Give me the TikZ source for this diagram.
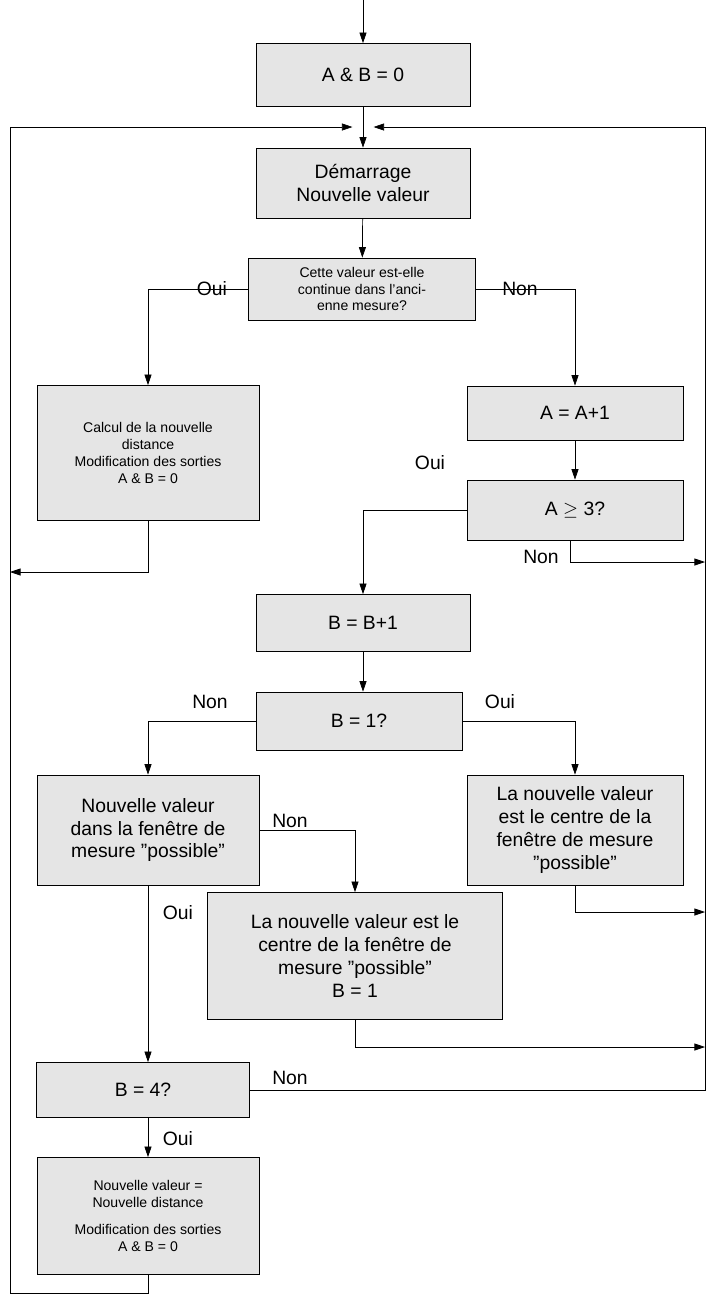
\documentclass[tikz,border=0pt]{standalone}
\usepackage{fontspec}
\setmainfont{Liberation Sans}
\usetikzlibrary{arrows.meta}
\tikzset{
  Box/.style={draw, fill=black!10, align=center, inner sep=2pt, font=\fontsize{11}{13}\selectfont},
  SmallBox/.style={Box, font=\fontsize{8}{9.5}\selectfont},
  Lbl/.style={font=\fontsize{11}{13}\selectfont},
  Flow/.style={-{Triangle[length=6pt,width=4pt]}, thin}
}
\newcommand{\Bx}[6]{\node[#1, minimum width=#4*0.02cm, minimum height=#5*0.02cm] (#2) at (#3) {#6};}
\begin{document}
\begin{tikzpicture}[x=0.02cm,y=-0.02cm]
  \useasboundingbox (0,0) rectangle (715,1303);
  % boxes
  \Bx{Box}{init}{363,75}{214}{63}{A \& B = 0}
  \Bx{Box}{start}{363,183}{214}{70}{Démarrage\\Nouvelle valeur}
  \Bx{SmallBox}{cont}{362,289}{227}{62}{Cette valeur est-elle\\continue dans l’anci-\\enne mesure?}
  \Bx{SmallBox}{calc}{148,453}{222}{135}{Calcul de la nouvelle\\distance\\Modification des sorties\\A \& B = 0}
  \Bx{Box}{incA}{575,413}{216}{54}{A = A+1}
  \Bx{Box}{testA}{575,510}{216}{60}{A $\geq$ 3?}
  \Bx{Box}{incB}{363,623}{214}{57}{B = B+1}
  \Bx{Box}{testB}{359,721}{206}{58}{B = 1?}
  \Bx{Box}{window}{148,830}{222}{110}{Nouvelle valeur\\dans la fenêtre de\\mesure "possible"}
  \Bx{Box}{centreR}{575,830}{216}{110}{La nouvelle valeur\\est le centre de la\\fenêtre de mesure\\"possible"}
  \Bx{Box}{centreM}{355,956}{295}{127}{La nouvelle valeur est le\\centre de la fenêtre de\\mesure "possible"\\B = 1}
  \Bx{Box}{testF}{143,1090}{213}{55}{B = 4?}
  \Bx{SmallBox}{final}{148,1216}{222}{117}{Nouvelle valeur =\\Nouvelle distance\\[6pt]Modification des sorties\\A \& B = 0}
  % loop coordinates
  \coordinate (top) at (363,0);
  \coordinate (join) at (363,127);
  \coordinate (L) at (10,127);
  \coordinate (R) at (705,127);
  % main flow
  \draw[Flow] (top) -- (init);
  \draw[Flow] (init) -- (start);
  \draw[Flow] (start) -- (cont);
  \draw[Flow] (cont.west) -| (calc.north);
  \draw[Flow] (cont.east) -| (incA.north);
  \draw[Flow] (incA) -- (testA);
  \draw[Flow] (testA.west) -| (incB.north);
  \draw[Flow] (incB) -- (incB |- testB.north);
  \draw[Flow] (testB.west) -| (window.north);
  \draw[Flow] (testB.east) -| (centreR.north);
  \draw[Flow] (window.east) -| (centreM.north);
  \draw[Flow] (window.south) -- (window.south |- testF.north);
  \draw[Flow] (testF.south -| final.north) -- (final.north);
  % returns
  \draw[Flow] (calc.south) |- (10,572);
  \draw[Flow] (570,540) |- (705,562);
  \draw[Flow] (centreR.south) |- (705,912);
  \draw[Flow] (centreM.south) |- (705,1047);
  \draw[Flow] (testF.east) -| (R) -- ([xshift=6pt]join);
  \draw[Flow] (final.south) |- (10,1293) -- (L) -- ([xshift=-6pt]join);
  % labels
  \node[Lbl] (l1) at (212,289) {Oui};
  \node[Lbl] (l2) at (520,289) {Non};
  \node[Lbl] (l3) at (430,463) {Oui};
  \node[Lbl] (l4) at (541,557) {Non};
  \node[Lbl] (l5) at (210,702) {Non};
  \node[Lbl] (l6) at (500,702) {Oui};
  \node[Lbl] (l7) at (290,821) {Non};
  \node[Lbl] (l8) at (178,913) {Oui};
  \node[Lbl] (l9) at (290,1078) {Non};
  \node[Lbl] (l10) at (178,1139) {Oui};
\end{tikzpicture}
\end{document}
